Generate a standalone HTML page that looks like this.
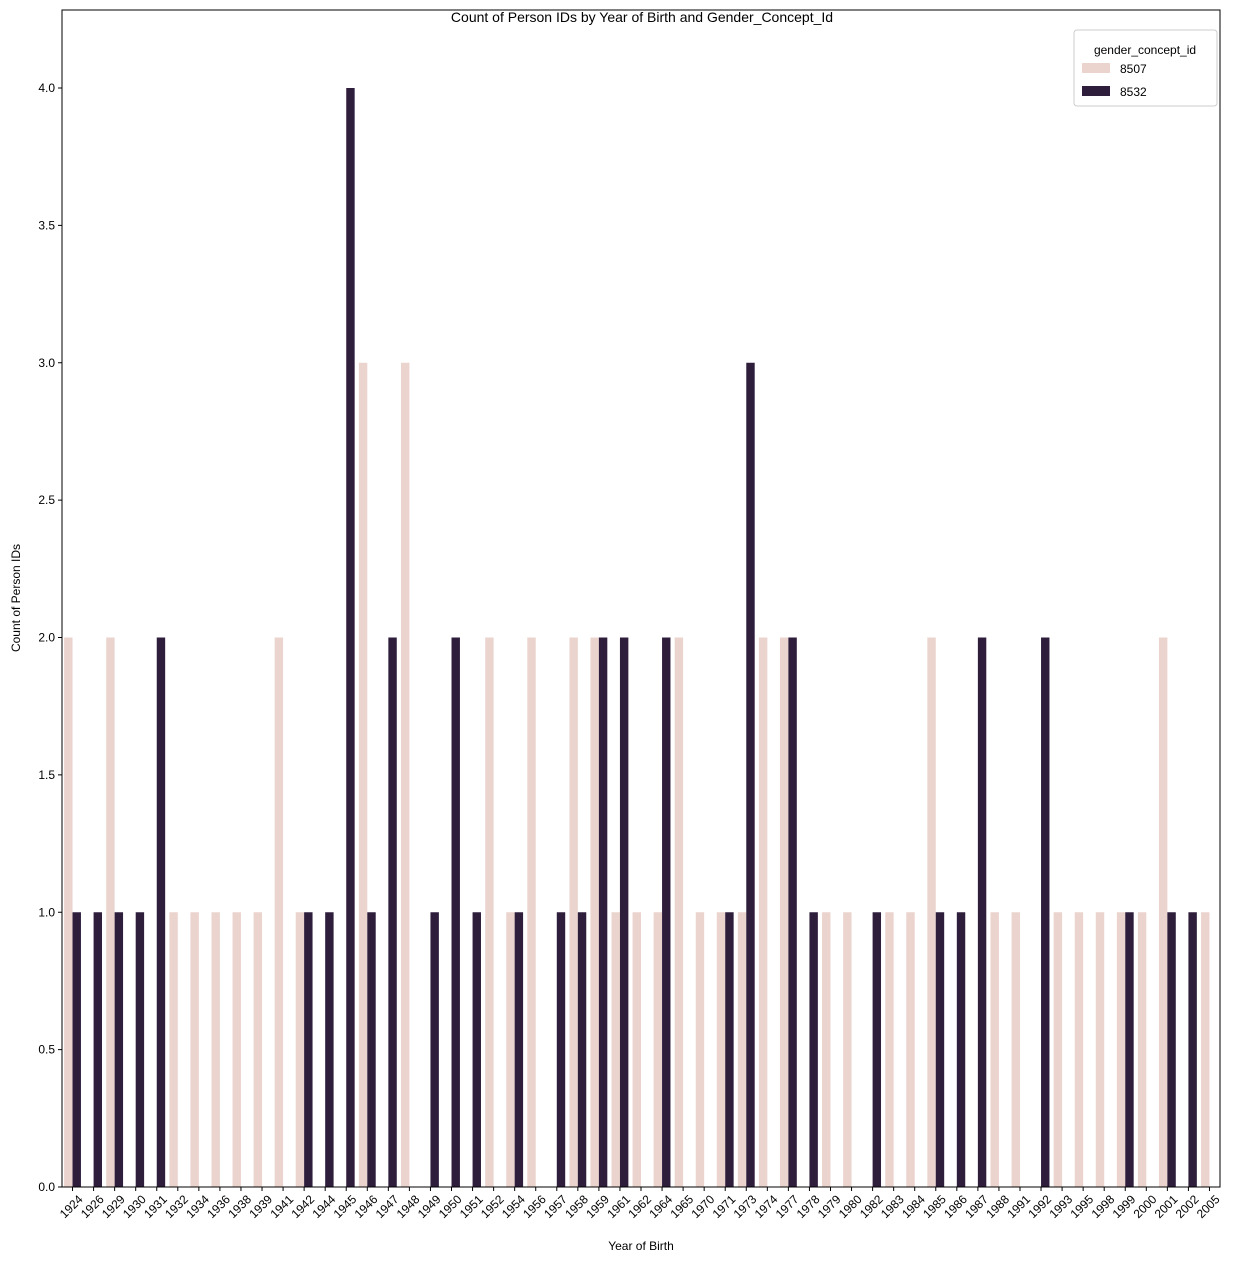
<!DOCTYPE html>
<html><head><meta charset="utf-8"><style>
body{margin:0;background:#fff;font-family:"Liberation Sans","DejaVu Sans",sans-serif}
</style></head><body>
<svg id="chart" width="1240" height="1261" xmlns="http://www.w3.org/2000/svg" font-family="Liberation Sans, DejaVu Sans, sans-serif">
<text x="642" y="22" text-anchor="middle" font-size="14">Count of Person IDs by Year of Birth and Gender_Concept_Id</text>
<g id="bars"></g><g id="axes"></g>
<rect x="62" y="10" width="1158" height="1177" fill="none" stroke="#000" stroke-width="1"/>
<text x="641" y="1250" text-anchor="middle" font-size="12">Year of Birth</text>
<text transform="translate(20,598) rotate(-90)" text-anchor="middle" font-size="12">Count of Person IDs</text>
<g>
<rect x="1074" y="30" width="143" height="76" rx="3" fill="#fff" fill-opacity="0.8" stroke="#ccc"/>
<text x="1145" y="54" text-anchor="middle" font-size="12">gender_concept_id</text>
<rect x="1082" y="63" width="28" height="10" fill="#ebd4ce"/>
<text x="1120" y="73" font-size="12">8507</text>
<rect x="1082" y="86" width="28" height="10" fill="#2e1e3c"/>
<text x="1120" y="96" font-size="12">8532</text>
</g>
</svg>
<script>
const categories=[1924,1926,1929,1930,1931,1932,1934,1936,1938,1939,1941,1942,1944,1945,1946,1947,1948,1949,1950,1951,1952,1954,1956,1957,1958,1959,1961,1962,1964,1965,1970,1971,1973,1974,1977,1978,1979,1980,1982,1983,1984,1985,1986,1987,1988,1991,1992,1993,1995,1998,1999,2000,2001,2002,2005];
const series8507=[2,0,2,0,0,1,1,1,1,1,2,1,0,0,3,0,3,0,0,0,2,1,2,0,2,2,1,1,1,2,1,1,1,2,2,0,1,1,0,1,1,2,0,0,1,1,0,1,1,1,1,1,2,0,1];
const series8532=[1,1,1,1,2,0,0,0,0,0,0,1,1,4,1,2,0,1,2,1,0,1,0,1,1,2,2,0,2,0,0,1,3,0,2,1,0,0,1,0,0,1,1,2,0,0,2,0,0,0,1,0,1,1,0];
const yTicks=[0,0.5,1,1.5,2,2.5,3,3.5,4];
const L=62,R=1220,B=1187,yMaxPx=88,yMaxV=4;
const bw=(R-L)/categories.length;
const x=i=>L+bw*(i+0.5);
const y=v=>B-(B-yMaxPx)*v/yMaxV;
const NS="http://www.w3.org/2000/svg";
const bars=document.getElementById('bars'),axes=document.getElementById('axes');
function mk(t,a,p){const e=document.createElementNS(NS,t);for(const k in a)e.setAttribute(k,a[k]);p.appendChild(e);return e;}
categories.forEach((c,i)=>{
  [[series8507,'#ebd4ce',-1,'8507'],[series8532,'#2e1e3c',0,'8532']].forEach(([s,col,off,nm])=>{
    const v=s[i];if(!v)return;
    const r=mk('rect',{x:x(i)+off*bw*0.4,y:y(v),width:bw*0.4,height:y(0)-y(v),fill:col},bars);
    
    
  });
  mk('line',{x1:x(i),x2:x(i),y1:B,y2:B+4,stroke:'#000'},axes);
  const t=mk('text',{transform:`translate(${x(i)+11},${B+13}) rotate(-45)`,'text-anchor':'end','font-size':12},axes);
  t.textContent=c;
  
  
});
yTicks.forEach(v=>{
  mk('line',{x1:L-4,x2:L,y1:y(v),y2:y(v),stroke:'#000'},axes);
  const t=mk('text',{x:L-7,y:y(v)+4,'text-anchor':'end','font-size':12},axes);
  t.textContent=v.toFixed(1);
  
  
});
</script>
</body></html>
